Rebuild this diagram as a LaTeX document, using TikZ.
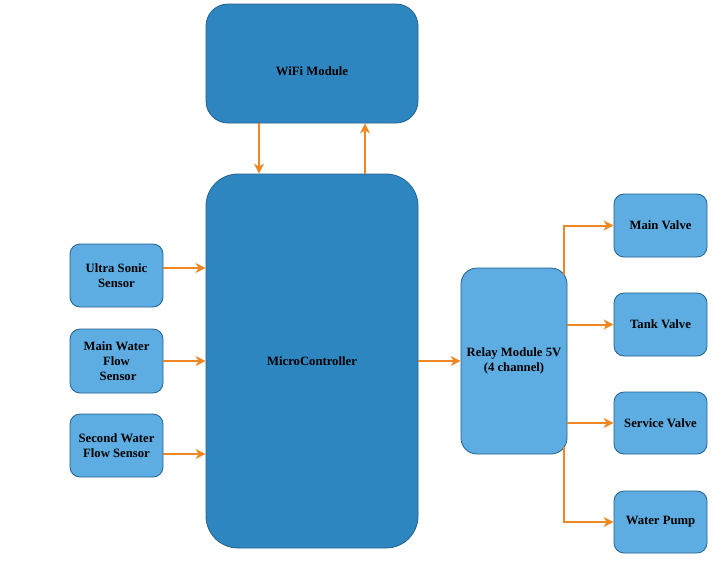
\documentclass[tikz,border=0pt]{standalone}
\usepackage{fontspec}
\setmainfont{Liberation Serif}
\usetikzlibrary{arrows.meta}
\definecolor{darkfill}{RGB}{46,134,193}
\definecolor{lightfill}{RGB}{93,173,226}
\definecolor{edgeblue}{RGB}{36,96,140}
\definecolor{arrorange}{RGB}{237,135,35}
\tikzset{
  box/.style={draw=edgeblue, line width=0.8pt, align=center, inner sep=2pt,
    font=\bfseries\fontsize{12.7}{15}\selectfont, text=black},
  bigbox/.style={box, fill=darkfill},
  smallbox/.style={box, fill=lightfill, rounded corners=10pt},
  arr/.style={draw=arrorange, line width=2pt, -{Stealth[length=10pt,width=10pt,inset=3pt]}},
}
\begin{document}
\begin{tikzpicture}[x=1pt,y=-1pt]
\useasboundingbox (0,0) rectangle (722,570);
\node[bigbox, rounded corners=22pt, minimum width=212pt, minimum height=119pt, text height=26pt, text depth=3pt] (wifi) at (312,63.5) {WiFi Module};
\node[bigbox, rounded corners=32pt, minimum width=212pt, minimum height=374pt] (mcu) at (312,361) {MicroController};
\node[smallbox, minimum width=93pt, minimum height=63pt] (us) at (116.5,275.5) {Ultra Sonic\\Sensor};
\node[smallbox, minimum width=93pt, minimum height=64pt] (mwf) at (116.5,361) {Main Water\\Flow\\\ Sensor};
\node[smallbox, minimum width=93pt, minimum height=63pt] (swf) at (116.5,445.5) {Second Water\\Flow Sensor};
\node[smallbox, rounded corners=16pt, minimum width=106pt, minimum height=186pt] (relay) at (514,361) {Relay Module 5V\\(4 channel)};
\node[smallbox, minimum width=93pt, minimum height=63pt] (mv) at (660.5,225.5) {Main Valve};
\node[smallbox, minimum width=93pt, minimum height=63pt] (tv) at (660.5,324.5) {Tank Valve};
\node[smallbox, minimum width=93pt, minimum height=62pt] (sv) at (660.5,423) {Service Valve};
\node[smallbox, minimum width=93pt, minimum height=62pt] (wp) at (660.5,522) {Water Pump};
% wifi <-> mcu
\draw[arr] ([shift={(-53,0)}]wifi.south) -- ([shift={(-53,0)}]mcu.north);
\draw[arr] ([shift={(53,0)}]mcu.north) -- ([shift={(53,0)}]wifi.south);
% sensors -> mcu
\draw[arr] ([shift={(0,-7.5)}]us.east) -- ([shift={(0,-7.5)}]us.east -| mcu.west);
\draw[arr] (mwf.east) -- (mwf.east -| mcu.west);
\draw[arr] ([shift={(0,8.5)}]swf.east) -- ([shift={(0,8.5)}]swf.east -| mcu.west);
% mcu -> relay
\draw[arr] (mcu.east) -- (mcu.east -| relay.west);
% relay -> outputs
\draw[arr] ([shift={(-3,7)}]relay.north east) |- (mv.west);
\draw[arr] (relay.east |- tv.west) -- (tv.west);
\draw[arr] (relay.east |- sv.west) -- (sv.west);
\draw[arr] ([shift={(-3,-7)}]relay.south east) |- (wp.west);
\end{tikzpicture}
\end{document}
